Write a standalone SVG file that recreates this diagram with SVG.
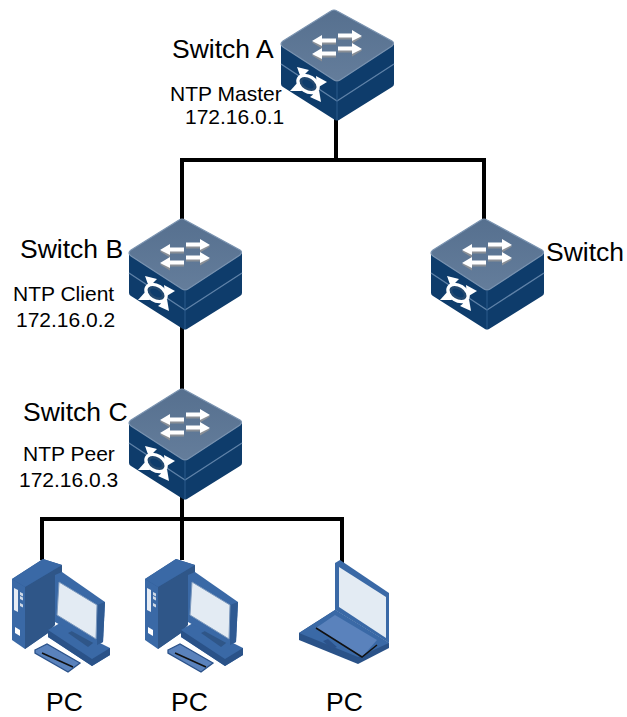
<svg xmlns="http://www.w3.org/2000/svg" width="627" height="717" viewBox="0 0 627 717">
<style>
text{font-family:"Liberation Sans",Arial,sans-serif;fill:#000}
.big{font-size:26.500px}
.small{font-size:21px}
.wire{fill:none;stroke:#000;stroke-width:4}
</style>
<defs>
<linearGradient id="topface" x1="0" y1="0" x2="0" y2="1"><stop offset="0" stop-color="#56708f"/><stop offset="1" stop-color="#647d9b"/></linearGradient>
<g id="arrowR"><path d="M0 -2H14V-6L24 0L14 6V2H0Z" fill="#8a8f96" transform="translate(0,1.500)"/><path d="M0 -2.500H14V-6L24 0L14 5V1.500H0Z" fill="#fff"/></g>
<g id="arrowL"><path d="M0 -2H-14V-6L-24 0L-14 6V2H0Z" fill="#8a8f96" transform="translate(0,1.500)"/><path d="M0 -2.500H-14V-6L-24 0L-14 5V1.500H0Z" fill="#fff"/></g>
<g id="sw">
<path d="M-56 34V74Q-56 76 -54 77L-2 110Q0 111 2 110L55 77Q57 76 57 74V34L0 71Z" fill="#0e3c6b"/>
<path d="M-54 31L-6 1Q-3 -1 0 1L55 31Q58 33 55 36L3 70Q0 72 -3 70L-54 37Q-58 34 -54 31Z" fill="url(#topface)" stroke="#7a93b0" stroke-width="1.200"/>
<path d="M-56 54L0 91L57 54" fill="none" stroke="#5f82a8" stroke-width="1.300"/>
<path d="M0 72V110" fill="none" stroke="#2a5a8c" stroke-width="1"/>
<use href="#arrowR" x="1" y="26"/>
<use href="#arrowR" x="1" y="39"/>
<use href="#arrowL" x="-1" y="31"/>
<use href="#arrowL" x="-1" y="44"/>
<g transform="translate(-29,74)">
<path d="M-8 -13L8 13M12 -2L-12 4" stroke="#fff" stroke-width="3" fill="none"/>
<ellipse rx="11" ry="7.500" transform="rotate(32)" fill="#24496f" stroke="#fff" stroke-width="3.200"/>
<ellipse rx="6.500" ry="3.500" transform="rotate(32)" fill="#0e3c6b"/>
<g fill="#fff">
<path d="M-11 -17L1 -14L-7 -6Z"/>
<path d="M19 -2L8 -8L9 4Z"/>
<path d="M-18 7L-9 -3L-6 7Z"/>
<path d="M13 18L11 6L2 13Z"/>
</g>
</g>
</g>
<g id="pc">
<path d="M12 579L43 559L62 565L55 622L48 633L25 649Z" fill="#2f5a92"/>
<path d="M12 579L25 587V649L12 640Z" fill="#3a69a6"/>
<path d="M25 587L62 565V575L55 580V625L48 633L25 649Z" fill="#2f5688"/>
<path d="M12 579L43 559L62 565L25 587Z" fill="#3a69a6"/>
<path d="M14 588l4 2v22l-4-2Z" fill="#e6ecf4"/>
<path d="M20 592l3 1.500v3l-3-1.500ZM20 596l3 1.500v3l-3-1.500ZM20 603l3 1.500v3l-3-1.500Z" fill="#cfd9e6"/>
<path d="M15 627l5 3v6l-5-3Z" fill="#fff"/>
<path d="M48 630L60 623L110 648V655L92 666L48 637Z" fill="#3a69a6"/>
<path d="M48 630V637L92 666L110 655V648L92 659Z" fill="#2a5288"/>
<path d="M68 633L80 627L97 640L88 647Z" fill="#2f5688"/>
<path d="M55 575L62 572L105 602L103 642L97 645L55 622Z" fill="#3a69a6"/>
<path d="M97 605L105 602L103 642L97 645Z" fill="#2f5a92"/>
<path d="M59 582L97 605L96 639L57 615Z" fill="#e3ebf3" stroke="#7b98bd" stroke-width="1"/>
<path d="M35 650L47 644L80 663L68 672L35 653Z" fill="#5a82bc" stroke="#2b528a" stroke-width="1.300"/>
<path d="M42 653L73 667" stroke="#111" stroke-width="1.500" fill="none"/>
</g>
</defs>
<g class="connectors" id="connectors">
<path class="wire" d="M336 115V160M182 225V160H484V225"/>
<path class="wire" d="M182 325V395"/>
<path class="wire" d="M182 495V560M42 560V519H342V564"/>
</g>
<g id="switch-a"><use href="#sw" x="337" y="10"/><text class="big" x="172" y="58">Switch A</text><text class="small" x="170" y="101">NTP Master</text><text class="small" x="185" y="124">172.16.0.1</text></g>
<g id="switch-b"><use href="#sw" x="185" y="219"/><text class="big" x="20" y="258">Switch B</text><text class="small" x="13" y="301">NTP Client</text><text class="small" x="16" y="327">172.16.0.2</text></g>
<g id="switch"><use href="#sw" x="487" y="219"/><text class="big" x="546" y="261">Switch</text></g>
<g id="switch-c"><use href="#sw" x="185" y="389"/><text class="big" x="23" y="421">Switch C</text><text class="small" x="23" y="461">NTP Peer</text><text class="small" x="19" y="487">172.16.0.3</text></g>
<g id="pc-1"><use href="#pc"/><text class="big" x="46" y="711">PC</text></g>
<g id="pc-2"><use href="#pc" x="133"/><text class="big" x="171" y="711">PC</text></g>
<g id="pc-3">
<path d="M299 633L335 610L389 643V648L358 664L299 640Z" fill="#2a5288"/>
<path d="M299 633L335 610L389 643L358 657Z" fill="#3a69a6"/>
<path d="M316 628L335 615L377 640L362 657Z" fill="#5a82bc"/>
<path d="M316 628L362 657L377 645" fill="none" stroke="#111" stroke-width="1.500"/>
<path d="M323 641l5-2 9 8-5 2Z" fill="#2b528a"/>
<path d="M335 563L340 560L389 593V643L335 610Z" fill="#3a69a6"/>
<path d="M339 567L386 597V638L339 607Z" fill="#e3ebf3"/>
<text class="big" x="326" y="711">PC</text></g>
</svg>
